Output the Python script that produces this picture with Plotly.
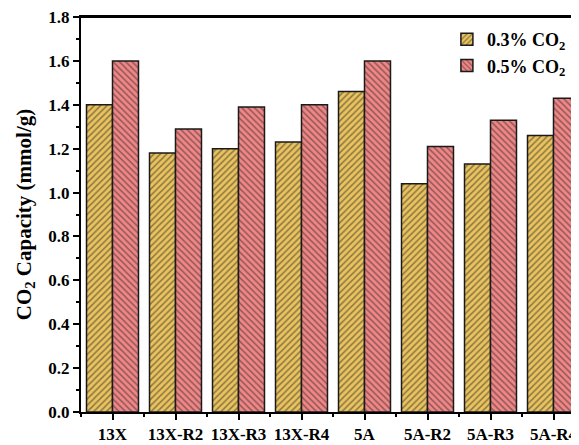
import plotly.graph_objects as go

categories = ["13X", "13X-R2", "13X-R3", "13X-R4", "5A", "5A-R2", "5A-R3", "5A-R4"]
co2_03 = [1.40, 1.18, 1.20, 1.23, 1.46, 1.04, 1.13, 1.26]
co2_05 = [1.60, 1.29, 1.39, 1.40, 1.60, 1.21, 1.33, 1.43]
y_ticks = [0.0, 0.2, 0.4, 0.6, 0.8, 1.0, 1.2, 1.4, 1.6, 1.8]

xpos = list(range(len(categories)))
FONT = "Liberation Serif"
YEL = "#EAC35E"
PNK = "#F28686"

fig = go.Figure()
fig.add_trace(go.Bar(
    x=xpos, y=co2_03, name="0.3% CO<sub>2</sub>",
    marker=dict(color=YEL, line=dict(color="#1a1a1a", width=1.5),
                pattern=dict(shape="/", fgcolor="#2a2a2a", bgcolor=YEL,
                             size=4.5, solidity=0.33)),
))
fig.add_trace(go.Bar(
    x=xpos, y=co2_05, name="0.5% CO<sub>2</sub>",
    marker=dict(color=PNK, line=dict(color="#1a1a1a", width=1.5),
                pattern=dict(shape="\\", fgcolor="#2a2a2a", bgcolor=PNK,
                             size=4.5, solidity=0.33)),
))

fig.update_layout(
    width=600, height=445,
    margin=dict(l=73, r=23, t=9, b=41, autoexpand=False),
    paper_bgcolor="white", plot_bgcolor="white",
    barmode="group", bargap=0.175, bargroupgap=0,
    font=dict(family=FONT, size=17, color="black", weight="bold"),
    showlegend=True,
    legend=dict(x=0.726, y=0.99, xanchor="left", yanchor="top",
                bgcolor="rgba(0,0,0,0)", font=dict(size=18, family=FONT, weight="bold")),
    xaxis=dict(
        range=[-0.5, 7.5], tickmode="array", tickvals=xpos, ticktext=categories,
        showline=True, linecolor="black", linewidth=2, mirror=True,
        ticks="outside", ticklen=6, tickwidth=2, tickcolor="black",
        showgrid=False, zeroline=False, automargin=False,
        tickfont=dict(size=17, family=FONT, weight="bold"),
        ticklabeloverflow="allow",
        minor=dict(tickmode="linear", tick0=0.5, dtick=1, ticks="outside", ticklen=3,
                   tickwidth=1.5, tickcolor="black", showgrid=False),
    ),
    yaxis=dict(
        range=[0, 1.8], tickmode="array", tickvals=y_ticks,
        ticktext=[f"{v:.1f}" for v in y_ticks],
        showline=True, linecolor="black", linewidth=2, mirror=False,
        ticks="outside", ticklen=6, tickwidth=2, tickcolor="black",
        showgrid=False, zeroline=False, automargin=False,
        tickfont=dict(size=17, family=FONT, weight="bold"),
        ticklabeloverflow="allow",
        minor=dict(tickmode="linear", tick0=0.1, dtick=0.2, ticks="outside", ticklen=3,
                   tickwidth=1.5, tickcolor="black", showgrid=False),
        title=dict(text="CO<sub>2</sub> Capacity (mmol/g)", standoff=11,
                   font=dict(size=21, family=FONT, weight="bold")),
    ),
)
fig.add_shape(type="line", xref="paper", yref="paper", x0=0, x1=1, y0=1, y1=1,
              line=dict(color="black", width=2), layer="above")

fig.write_html("out.html")
